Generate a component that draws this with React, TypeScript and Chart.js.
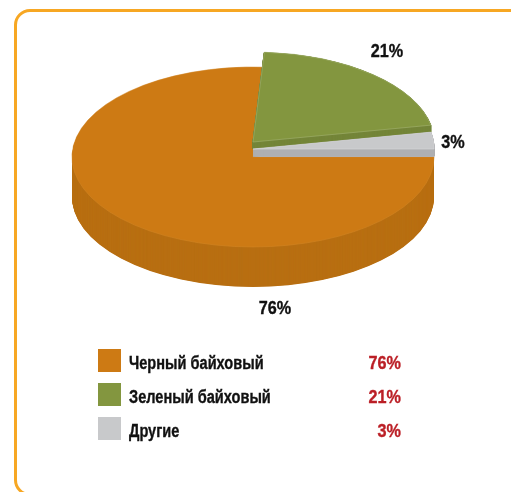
import React, { useEffect, useRef } from "react";
import { Chart, registerables } from "chart.js";

Chart.register(...registerables);

const categories = ["Черный байховый", "Зеленый байховый", "Другие"];
const shares = [76, 21, 3];
const topColors = ["#cd7a14", "#83963f", "#c8c9cb"];
const sideColors = ["#b86f12", "#75863a", "#aeafb2"];
const edgeColors = ["#d28524", "#a3b171", "#d8d9da"];
const lifts = [0, 15, 8];
const depths = [40, 7, 7.5];
const labelSpots = [
  { x: 275, y: 314 },
  { x: 387, y: 57 },
  { x: 453, y: 148 },
];
const drawOrder = [0, 1, 2];

const FONT = 'bold 18px "Liberation Sans", sans-serif';
const SQUEEZE = 0.81;
const SQUEEZE_PCT = 0.9;

const pie3d = {
  id: "pie3d",
  beforeDatasetsDraw(chart: any) {
    const ctx = chart.ctx;
    const arcs = chart.getDatasetMeta(0).data;
    const cx = 253;
    const cy = 157;
    const tilt = 0.497;
    const paint = (arc: any, dy: number, fill: string, stroke: string, bw: number) => {
      const saved = arc.options;
      const o = Object.create(saved);
      o.backgroundColor = fill;
      o.borderColor = stroke;
      o.borderWidth = bw;
      arc.options = o;
      ctx.save();
      ctx.translate(cx, cy + dy);
      ctx.scale(1, tilt);
      ctx.translate(-arc.x, -arc.y);
      arc.draw(ctx);
      ctx.restore();
      arc.options = saved;
    };
    for (const i of drawOrder) {
      const arc = arcs[i];
      const thin = depths[i] < 20;
      const step = thin ? 0.25 : 0.5;
      for (let d = depths[i]; d >= step; d -= step) {
        paint(arc, d - lifts[i], sideColors[i], sideColors[i], thin ? 1.2 : 0);
      }
      paint(arc, -lifts[i], topColors[i], edgeColors[i], 0.8);
    }
    return false;
  },
  afterDraw(chart: any) {
    const ctx = chart.ctx;
    const text = (s: string, x: number, y: number, align: string, color: string, sq: number) => {
      ctx.save();
      ctx.font = FONT;
      ctx.textBaseline = "alphabetic";
      ctx.textAlign = align;
      ctx.fillStyle = color;
      ctx.strokeStyle = color;
      ctx.lineWidth = 0.35;
      ctx.translate(x, y);
      ctx.scale(sq, 1);
      ctx.fillText(s, 0, 0);
      ctx.strokeText(s, 0, 0);
      ctx.restore();
    };
    shares.forEach((v, i) => {
      const spot = labelSpots[i];
      text(`${v}%`, spot.x, spot.y, "center", "#111111", SQUEEZE_PCT);
      const rowY = 360.5 + i * 34;
      ctx.fillStyle = topColors[i];
      ctx.fillRect(98, rowY - 11.5, 23, 23);
      text(categories[i], 129, rowY + 8.5, "left", "#111111", SQUEEZE);
      text(`${v}%`, 401, rowY + 8.5, "right", "#bb1f26", SQUEEZE_PCT);
    });
  },
};

export default function App() {
  const ref = useRef<HTMLCanvasElement | null>(null);
  useEffect(() => {
    const chart = new Chart(ref.current as HTMLCanvasElement, {
      type: "pie",
      data: {
        labels: categories,
        datasets: [{ data: shares, backgroundColor: topColors, borderWidth: 0 }],
      },
      options: {
        animation: false,
        responsive: false,
        rotation: 90,
        layout: { padding: { left: 72, right: 77, top: 65, bottom: 65 } },
        plugins: { legend: { display: false }, tooltip: { enabled: false } },
      },
      plugins: [pie3d],
    } as any);
    return () => chart.destroy();
  }, []);
  return (
    <div style={{ position: "fixed", left: 0, top: 0, width: 511, height: 492, overflow: "hidden", background: "#fff" }}>
      <div
        style={{
          position: "absolute",
          left: 14,
          top: 9,
          width: 600,
          height: 481,
          border: "3px solid #f7a723",
          borderRadius: 16,
        }}
      />
      <canvas ref={ref} width={511} height={492} style={{ position: "absolute", left: 0, top: 0 }} />
    </div>
  );
}
